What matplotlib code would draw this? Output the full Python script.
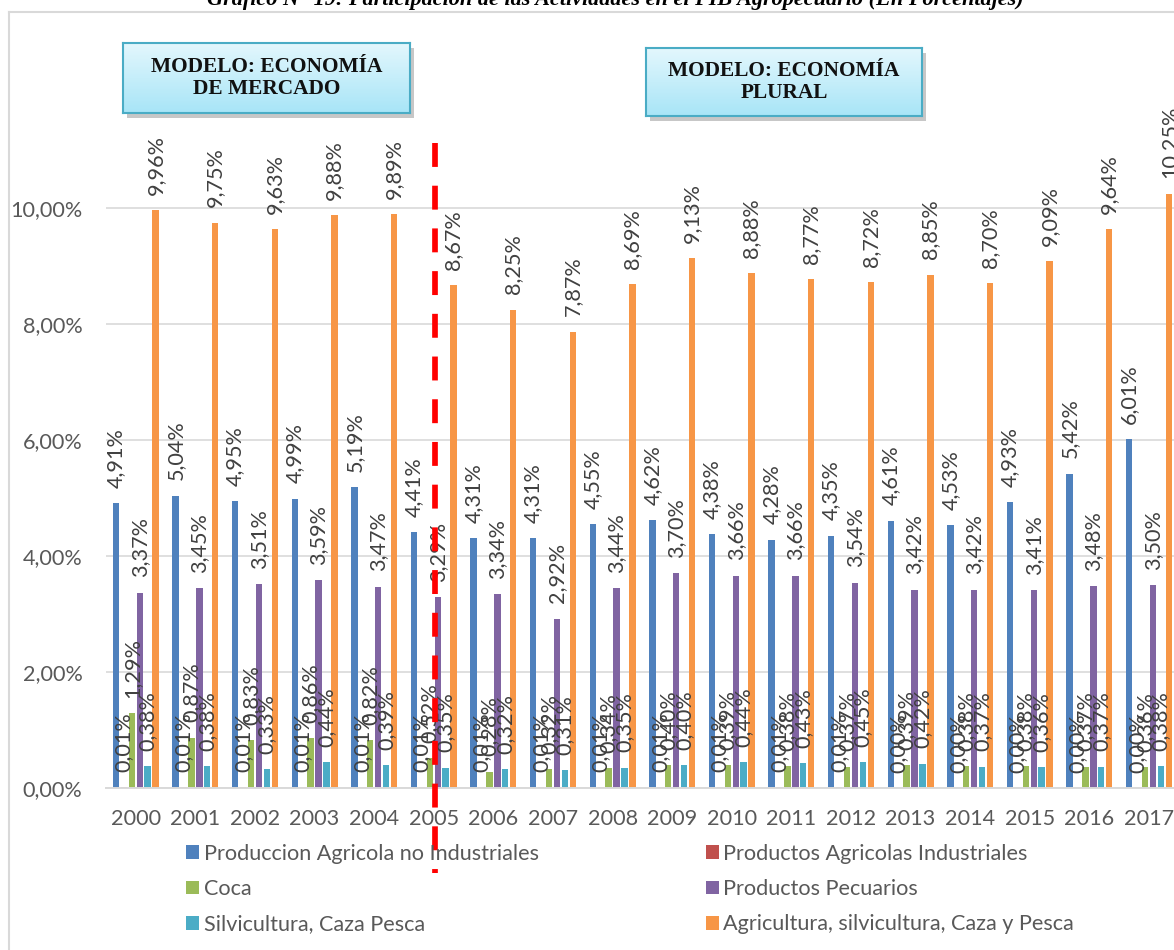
import numpy as np
import matplotlib
matplotlib.use("Agg")
import matplotlib.pyplot as plt
from matplotlib.patches import Patch, Rectangle
from matplotlib.lines import Line2D
from matplotlib.ticker import FuncFormatter

plt.rcParams['font.family'] = ['Lato', 'DejaVu Sans']

years = ['2000', '2001', '2002', '2003', '2004', '2005', '2006', '2007', '2008',
         '2009', '2010', '2011', '2012', '2013', '2014', '2015', '2016', '2017']

prod_agricola = [4.91, 5.04, 4.95, 4.99, 5.19, 4.41, 4.31, 4.31, 4.55,
                 4.62, 4.38, 4.28, 4.35, 4.61, 4.53, 4.93, 5.42, 6.01]
prod_industriales = [0.01, 0.01, 0.01, 0.01, 0.01, 0.01, 0.01, 0.01, 0.01,
                     0.01, 0.01, 0.01, 0.01, 0.00, 0.00, 0.00, 0.00, 0.00]
coca = [1.29, 0.87, 0.83, 0.86, 0.82, 0.52, 0.28, 0.32, 0.34,
        0.40, 0.39, 0.38, 0.37, 0.39, 0.38, 0.38, 0.37, 0.36]
pecuarios = [3.37, 3.45, 3.51, 3.59, 3.47, 3.29, 3.34, 2.92, 3.44,
             3.70, 3.66, 3.66, 3.54, 3.42, 3.42, 3.41, 3.48, 3.50]
silvicultura = [0.38, 0.38, 0.33, 0.44, 0.39, 0.35, 0.32, 0.31, 0.35,
                0.40, 0.44, 0.43, 0.45, 0.42, 0.37, 0.36, 0.37, 0.38]
agricultura_total = [9.96, 9.75, 9.63, 9.88, 9.89, 8.67, 8.25, 7.87, 8.69,
                     9.13, 8.88, 8.77, 8.72, 8.85, 8.70, 9.09, 9.64, 10.25]

series = [
    ('Produccion Agricola no Industriales', prod_agricola, '#4F81BD'),
    ('Productos Agricolas Industriales', prod_industriales, '#C0504D'),
    ('Coca', coca, '#9BBB59'),
    ('Productos Pecuarios', pecuarios, '#8064A2'),
    ('Silvicultura, Caza Pesca', silvicultura, '#4BACC6'),
    ('Agricultura, silvicultura, Caza y Pesca', agricultura_total, '#F79646'),
]

title = 'Gráfico N° 19: Participación de las Actividades en el PIB Agropecuario (En Porcentajes)'
box_left_text = 'MODELO: ECONOMÍA\nDE MERCADO'
box_right_text = 'MODELO: ECONOMÍA\nPLURAL'
divider_year = '2005'

W, H = 1174, 950
txt = '#595959'
fs = 15.6
step = 59.6  # px per year group

fig = plt.figure(figsize=(W / 100, H / 100), dpi=100)
ax = fig.add_axes([106 / W, (H - 788) / H, 18 * step / W, 11.5 * 58 / H])

x = np.arange(len(years))
slot = 0.1327
width = 0.108
for i, (name, vals, col) in enumerate(series):
    bars = ax.bar(x + (i - 2.5) * slot, vals, width, color=col, label=name, zorder=2)
    ax.bar_label(bars, labels=[f'{v:.2f}%'.replace('.', ',') for v in vals],
                 rotation=90, padding=11, fontsize=fs, color='#404040', zorder=3)

ax.set_xlim(-0.5, len(years) - 0.5)
ax.set_ylim(0, 11.5)
ax.set_yticks([0, 2, 4, 6, 8, 10])
ax.yaxis.set_major_formatter(FuncFormatter(lambda v, p: f'{v:.2f}%'.replace('.', ',')))
ax.set_xticks(x)
ax.set_xticklabels(years)
ax.tick_params(axis='both', length=0, labelsize=fs, labelcolor=txt)
ax.tick_params(axis='y', pad=17)
ax.tick_params(axis='x', pad=15)
ax.grid(axis='y', color='#d9d9d9', lw=1.2, zorder=0)
ax.set_axisbelow(True)
for s in ['top', 'right', 'left']:
    ax.spines[s].set_visible(False)
ax.spines['bottom'].set_color('#d9d9d9')
ax.spines['bottom'].set_linewidth(1.4)

# red dashed divider
xd = years.index(divider_year) + 0.02
ax.plot([xd, xd], [11.12, -1.47], color='#FF0000', lw=4.1, linestyle=(0, (4.2, 3.3)),
        dash_capstyle='butt', clip_on=False, zorder=10)

# legend, row-wise order like Excel
handles = [Patch(facecolor=c) for _, _, c in series]
labels = [n for n, _, _ in series]
order = [0, 2, 4, 1, 3, 5]
fig.legend([handles[k] for k in order], [labels[k] for k in order], ncol=2,
           loc='upper left', bbox_to_anchor=(186 / W, 1 - 844 / H), frameon=False,
           fontsize=fs, labelcolor=txt, handlelength=0.6, handleheight=0.6,
           handletextpad=0.22, columnspacing=7.7, labelspacing=0.70,
           borderpad=0, borderaxespad=0)

# chart border (cut by the image edge)
fig.add_artist(Line2D([9 / W, 9 / W], [0, 1 - 12 / H], color='#d9d9d9', lw=1.5))
fig.add_artist(Line2D([9 / W, 1], [1 - 12 / H, 1 - 12 / H], color='#d9d9d9', lw=1.5))

# title (partly cut at the top)
fig.text(615 / W, 1 - 5 / H, title, ha='center', va='baseline', fontsize=16,
         family='Liberation Serif', weight='bold', style='italic')

# model boxes
grad = np.linspace(0, 1, 64).reshape(-1, 1)
cmap = matplotlib.colors.LinearSegmentedColormap.from_list('b', ['#e3f7fd', '#a8e5f7'])
for (l, t, r, b), text in [((123, 43, 410, 113), box_left_text),
                           ((646, 48, 922, 116), box_right_text)]:
    fig.add_artist(Rectangle(((l + 4) / W, 1 - (b + 5) / H), (r - l) / W, (b - t) / H,
                             transform=fig.transFigure, facecolor='#9a9a9a', alpha=0.55,
                             edgecolor='none', zorder=5))
    bx = fig.add_axes([l / W, 1 - b / H, (r - l) / W, (b - t) / H], zorder=6)
    bx.imshow(grad, aspect='auto', cmap=cmap, extent=(0, 1, 0, 1))
    bx.set_xticks([])
    bx.set_yticks([])
    for s in bx.spines.values():
        s.set_color('#4aacc5')
        s.set_linewidth(1.5)
    bx.text(0.5, 0.5, text, ha='center', va='center', fontsize=15.4, linespacing=1.2,
            family='Liberation Serif', weight='bold', color='#111111',
            transform=bx.transAxes)

fig.savefig('out.png', dpi=100)
